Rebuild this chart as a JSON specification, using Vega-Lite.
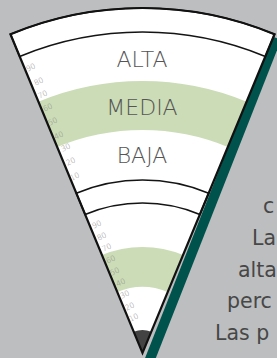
{
  "$schema": "https://vega.github.io/schema/vega-lite/v6.json",
  "width": 277,
  "height": 358,
  "padding": 0,
  "autosize": "none",
  "background": "#bdbec0",
  "config": {"view": {"stroke": null}},
  "datasets": {
    "shadow": [{"x": 134, "y": 315, "x2": 6, "y2": -10}],
    "fills": [
      {"x": 0, "y": 0, "band": "wedge", "r0": 0, "r1": 345, "t0": -1, "t1": 1},
      {"x": 0, "y": 0, "band": "media", "r0": 223, "r1": 272, "t0": -1, "t1": 1},
      {"x": 0, "y": 0, "band": "lowmid", "r0": 66, "r1": 106, "t0": -1, "t1": 1},
      {"x": 0, "y": 0, "band": "apex", "r0": 0, "r1": 23, "t0": -1, "t1": 1}
    ],
    "outline": [{"x": 0, "y": 0, "r0": 0, "r1": 345, "t0": -1, "t1": 1}],
    "rings": [
      {"x": 0, "y": 0, "r0": 321, "r1": 345, "t0": -1, "t1": 1},
      {"x": 0, "y": 0, "r0": 150, "r1": 173, "t0": -1, "t1": 1}
    ],
    "labels": [
      {"x": -0.5, "y": 286, "text": "ALTA"},
      {"x": -0.5, "y": 238, "text": "MEDIA"},
      {"x": -0.5, "y": 190, "text": "BAJA"}
    ],
    "ticks": [
      {"x": -111.5, "y": 285, "text": "90"},
      {"x": -103.5, "y": 271, "text": "80"},
      {"x": -99.5, "y": 258, "text": "70"},
      {"x": -94.5, "y": 245, "text": "60"},
      {"x": -89.5, "y": 231, "text": "50"},
      {"x": -83.5, "y": 217, "text": "40"},
      {"x": -76.5, "y": 205, "text": "30"},
      {"x": -71.5, "y": 191, "text": "20"},
      {"x": -67.5, "y": 176, "text": "10"},
      {"x": -45.5, "y": 128, "text": "90"},
      {"x": -40.5, "y": 116, "text": "80"},
      {"x": -35.5, "y": 105, "text": "70"},
      {"x": -31.5, "y": 93, "text": "60"},
      {"x": -27.5, "y": 81, "text": "50"},
      {"x": -21.5, "y": 70, "text": "40"},
      {"x": -17.5, "y": 58, "text": "30"},
      {"x": -12.5, "y": 46, "text": "20"},
      {"x": -8.5, "y": 35, "text": "10"}
    ],
    "side": [
      {"x": 120.5, "y": 140, "text": "c"},
      {"x": 109.5, "y": 108, "text": "La"},
      {"x": 95.5, "y": 76, "text": "alta"},
      {"x": 84.5, "y": 45, "text": "perc"},
      {"x": 72.5, "y": 13, "text": "Las p"}
    ]
  },
  "layer": [
    {
      "data": {"name": "shadow"},
      "mark": {"type": "rule", "stroke": "#00524c", "strokeWidth": 10, "strokeCap": "butt"},
      "encoding": {
        "x": {"field": "x", "type": "quantitative", "scale": {"domain": [-142.5, 134.5], "nice": false, "zero": false}, "axis": null},
        "y": {"field": "y", "type": "quantitative", "scale": {"domain": [-5, 353], "nice": false, "zero": false}, "axis": null},
        "x2": {"field": "x2"},
        "y2": {"field": "y2"}
      }
    },
    {
      "data": {"name": "fills"},
      "mark": {"type": "arc", "stroke": null},
      "encoding": {
        "x": {"field": "x", "type": "quantitative"},
        "y": {"field": "y", "type": "quantitative"},
        "theta": {"field": "t0", "type": "quantitative", "stack": null, "scale": {"type": "linear", "domain": [-1, 1], "range": [-0.3927, 0.3927], "zero": false, "nice": false}},
        "theta2": {"field": "t1"},
        "radius": {"field": "r0", "type": "quantitative", "stack": null, "scale": {"type": "linear", "domain": [0, 345], "range": [0, 345], "zero": true, "nice": false}},
        "radius2": {"field": "r1"},
        "color": {"field": "band", "type": "nominal", "legend": null, "scale": {"domain": ["wedge", "media", "lowmid", "apex"], "range": ["#ffffff", "#cbdcb6", "#cbdcb6", "#434343"]}}
      }
    },
    {
      "data": {"name": "rings"},
      "mark": {"type": "arc", "filled": false, "stroke": "#141414", "strokeWidth": 1.6},
      "encoding": {
        "x": {"field": "x", "type": "quantitative"},
        "y": {"field": "y", "type": "quantitative"},
        "theta": {"field": "t0", "type": "quantitative", "stack": null},
        "theta2": {"field": "t1"},
        "radius": {"field": "r0", "type": "quantitative", "stack": null},
        "radius2": {"field": "r1"}
      }
    },
    {
      "data": {"name": "outline"},
      "mark": {"type": "arc", "filled": false, "stroke": "#111111", "strokeWidth": 2.2, "strokeJoin": "miter"},
      "encoding": {
        "x": {"field": "x", "type": "quantitative"},
        "y": {"field": "y", "type": "quantitative"},
        "theta": {"field": "t0", "type": "quantitative", "stack": null},
        "theta2": {"field": "t1"},
        "radius": {"field": "r0", "type": "quantitative", "stack": null},
        "radius2": {"field": "r1"}
      }
    },
    {
      "data": {"name": "labels"},
      "mark": {"type": "text", "font": "DejaVu Sans", "fontWeight": 200, "fontSize": 22, "fill": "#555555", "align": "center", "baseline": "alphabetic"},
      "encoding": {
        "x": {"field": "x", "type": "quantitative"},
        "y": {"field": "y", "type": "quantitative"},
        "text": {"field": "text"}
      }
    },
    {
      "data": {"name": "ticks"},
      "mark": {"type": "text", "font": "DejaVu Sans", "fontWeight": 200, "fontSize": 7.5, "fill": "#8c8c8c", "align": "center", "baseline": "middle", "angle": -25},
      "encoding": {
        "x": {"field": "x", "type": "quantitative"},
        "y": {"field": "y", "type": "quantitative"},
        "text": {"field": "text"}
      }
    },
    {
      "data": {"name": "side"},
      "mark": {"type": "text", "font": "DejaVu Sans", "fontSize": 20.5, "fill": "#474747", "align": "left", "baseline": "alphabetic"},
      "encoding": {
        "x": {"field": "x", "type": "quantitative"},
        "y": {"field": "y", "type": "quantitative"},
        "text": {"field": "text"}
      }
    }
  ]
}
